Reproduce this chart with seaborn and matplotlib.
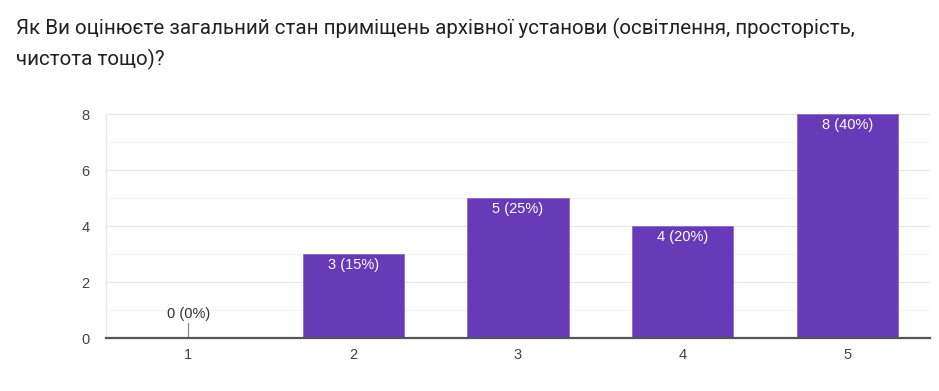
import matplotlib
matplotlib.use("Agg")
import matplotlib.pyplot as plt
import numpy as np
import pandas as pd
import seaborn as sns


TITLE = "Як Ви оцінюєте загальний стан приміщень архівної установи (освітлення, просторість,\nчистота тощо)?"
CATEGORIES = ["1", "2", "3", "4", "5"]
COUNTS = [0, 3, 5, 4, 8]
PERCENTS = [0, 15, 25, 20, 40]
Y_TICKS = [0, 2, 4, 6, 8]

BAR_COLOR = "#673AB7"
CHART_FONT = ["Liberation Sans", "DejaVu Sans"]


def main() -> None:
    sns.set_theme(style="white")
    plt.rcParams["font.family"] = CHART_FONT

    df = pd.DataFrame({"answer": CATEGORIES, "count": COUNTS, "percent": PERCENTS})

    fig = plt.figure(figsize=(9.39, 3.91), dpi=100)
    ax = fig.add_axes([106 / 939, 1 - 338 / 391, 824 / 939, 224 / 391])

    # faint grid first so bars sit on top
    for v in np.arange(1, 8, 2):
        ax.axhline(v, color="#f3f3f3", linewidth=0.8, zorder=0)
    for v in Y_TICKS[1:]:
        ax.axhline(v, color="#e6e6e6", linewidth=0.9, zorder=0)

    sns.barplot(
        data=df,
        x="answer",
        y="count",
        color=BAR_COLOR,
        saturation=1,
        width=0.615,
        edgecolor="#8c6cc9",
        linewidth=0.6,
        ax=ax,
        zorder=2,
    )

    for i, (count, pct) in enumerate(zip(df["count"], df["percent"])):
        label = f"{count} ({pct}%)"
        if count == 0:
            ax.plot([i, i], [0, 0.55], color="#888888", linewidth=0.9, zorder=3)
            ax.text(i, 0.62, label, ha="center", va="bottom", fontsize=10.5, color="#333333")
        else:
            ax.text(i, count - 0.16, label, ha="center", va="top", fontsize=10.5,
                    color="white", zorder=4)

    ax.set_xlim(-0.5, 4.5)
    ax.set_ylim(0, 8)
    ax.set_yticks(Y_TICKS)
    ax.set_xlabel("")
    ax.set_ylabel("")
    ax.tick_params(axis="both", length=0, labelsize=10.5, colors="#444444")
    ax.tick_params(axis="y", pad=12)
    ax.tick_params(axis="x", pad=7)

    for side in ["top", "right"]:
        ax.spines[side].set_visible(False)
    ax.spines["left"].set_color("#e6e6e6")
    ax.spines["left"].set_linewidth(0.9)
    ax.spines["bottom"].set_color("#555555")
    ax.spines["bottom"].set_linewidth(1.6)
    ax.spines["bottom"].set_zorder(5)

    fig.text(16 / 939, 1 - 18 / 391, TITLE, ha="left", va="top", fontsize=14.75,
             color="#202124", linespacing=1.6, family=["Roboto", "DejaVu Sans"])

    fig.savefig("out.png", dpi=100)
    plt.close(fig)


if __name__ == "__main__":
    main()
